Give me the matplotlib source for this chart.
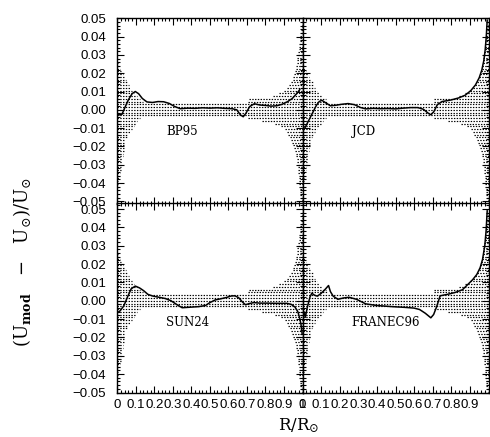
import numpy as np
import matplotlib
matplotlib.use('Agg')
import matplotlib.pyplot as plt
import matplotlib.ticker as ticker

# model curves: (r/R_sun, relative difference in U)
r_bp95 = [0, 0.01, 0.025, 0.04, 0.06, 0.08, 0.097, 0.115, 0.135, 0.16, 0.19, 0.22, 0.25, 0.28, 0.31,
          0.34, 0.38, 0.42, 0.46, 0.50, 0.54, 0.58, 0.62, 0.645, 0.665, 0.68, 0.695, 0.715, 0.74, 0.77,
          0.80, 0.83, 0.86, 0.89, 0.92, 0.945, 0.97, 0.985]
u_bp95 = [-0.002, -0.0028, -0.0025, 0.001, 0.0055, 0.0088, 0.010, 0.0088, 0.0062, 0.0043, 0.004, 0.0045,
          0.0044, 0.0035, 0.0018, 0.0006, 0.0009, 0.0008, 0.0011, 0.0009, 0.0011, 0.0008, 0.0006, 0.0,
          -0.0028, -0.0038, -0.0018, 0.0018, 0.0033, 0.0026, 0.0024, 0.002, 0.0022, 0.003, 0.0045, 0.0062,
          0.009, 0.011]

r_jcd = [0, 0.015, 0.035, 0.055, 0.075, 0.09, 0.104, 0.125, 0.15, 0.18, 0.21, 0.245, 0.28, 0.31, 0.34,
         0.38, 0.42, 0.46, 0.50, 0.54, 0.58, 0.62, 0.65, 0.675, 0.69, 0.705, 0.725, 0.75, 0.80, 0.84,
         0.875, 0.905, 0.93, 0.95, 0.964, 0.975, 0.982, 0.988, 0.993]
u_jcd = [-0.012, -0.0095, -0.0055, -0.0015, 0.0025, 0.0045, 0.0052, 0.0038, 0.0022, 0.0025, 0.003, 0.0034,
         0.0028, 0.0013, 0.0005, 0.0008, 0.0006, 0.0007, 0.0005, 0.0009, 0.0012, 0.0012, 0.0003, -0.0018,
         -0.0027, -0.0012, 0.0028, 0.0045, 0.0054, 0.0065, 0.008, 0.0105, 0.0136, 0.0175, 0.0217, 0.027,
         0.0326, 0.04, 0.049]

r_sun24 = [0, 0.015, 0.035, 0.055, 0.075, 0.097, 0.12, 0.142, 0.165, 0.19, 0.22, 0.26, 0.29, 0.32, 0.35,
           0.38, 0.41, 0.44, 0.476, 0.50, 0.53, 0.56, 0.59, 0.615, 0.635, 0.655, 0.675, 0.692, 0.71, 0.737,
           0.77, 0.81, 0.86, 0.916, 0.94, 0.96, 0.975, 0.985, 0.992, 0.998]
u_sun24 = [-0.0065, -0.0055, -0.0028, 0.002, 0.0065, 0.008, 0.007, 0.0055, 0.0035, 0.0026, 0.002, 0.0012,
           0.0, -0.002, -0.0038, -0.0036, -0.0034, -0.0032, -0.0026, -0.001, 0.0005, 0.0011, 0.0018, 0.0026,
           0.0027, 0.0017, -0.0006, -0.0022, -0.0016, -0.001, -0.0013, -0.0013, -0.0014, -0.0014, -0.002,
           -0.0035, -0.006, -0.0095, -0.013, -0.018]

r_franec = [0, 0.008, 0.015, 0.025, 0.04, 0.05, 0.065, 0.08, 0.1, 0.12, 0.14, 0.15, 0.165, 0.19, 0.22,
            0.25, 0.29, 0.34, 0.40, 0.48, 0.55, 0.60, 0.63, 0.66, 0.69, 0.705, 0.72, 0.74, 0.78, 0.82,
            0.86, 0.89, 0.915, 0.937, 0.955, 0.968, 0.98, 0.987, 0.993]
u_franec = [-0.009, -0.006, -0.009, -0.004, 0.002, 0.0041, 0.003, 0.0025, 0.004, 0.006, 0.0083, 0.005,
            0.0025, 0.0008, 0.0015, 0.0019, 0.0008, -0.0017, -0.0026, -0.0032, -0.0036, -0.004, -0.0048,
            -0.0068, -0.0093, -0.0075, -0.0036, 0.0027, 0.0035, 0.0045, 0.006, 0.009, 0.0115, 0.0143,
            0.018, 0.0225, 0.03, 0.038, 0.049]

# helioseismic uncertainty envelope (upper and lower)
env_r_up = [0.0, 0.02, 0.045, 0.07, 0.09, 0.125, 0.15, 0.70, 0.71, 0.84, 0.91, 0.945, 0.965, 0.985, 1.0]
env_up = [0.027, 0.021, 0.017, 0.012, 0.009, 0.006, 0.0032, 0.0032, 0.0062, 0.0075, 0.011, 0.016, 0.0235, 0.038, 0.05]
env_r_lo = [0.0, 0.02, 0.045, 0.065, 0.09, 0.11, 0.14, 0.70, 0.71, 0.84, 0.90, 0.93, 0.95, 0.97, 0.99, 1.0]
env_lo = [0.043, 0.032, 0.016, 0.0125, 0.009, 0.006, 0.0032, 0.0032, 0.0048, 0.007, 0.0098, 0.0145, 0.02, 0.027, 0.049, 0.05]

names = ['BP95', 'JCD', 'SUN24', 'FRANEC96']
curves = [(r_bp95, u_bp95), (r_jcd, u_jcd), (r_sun24, u_sun24), (r_franec, u_franec)]

plt.rcParams['font.family'] = ['Liberation Sans', 'DejaVu Sans']
plt.rcParams['mathtext.fontset'] = 'dejavuserif'
plt.rcParams['lines.scale_dashes'] = False

W, H = 490, 437
fig = plt.figure(figsize=(W / 100, H / 100), dpi=100)

x0, xm, x1 = 117.3, 302.5, 488.5
yt, ymid, yb = 18.3, 203.5, 392.5
boxes = [
    (x0, ymid, xm - x0, ymid - yt),
    (xm, ymid, x1 - xm, ymid - yt),
    (x0, yb, xm - x0, yb - ymid),
    (xm, yb, x1 - xm, yb - ymid),
]
ylims = [(-0.0512, 0.05), (-0.0512, 0.05), (-0.05, 0.053), (-0.05, 0.053)]

r_fine = np.linspace(0, 1, 800)
up_fine = np.interp(r_fine, env_r_up, env_up)
lo_fine = np.interp(r_fine, env_r_lo, env_lo)
step = 0.0015
levels = np.arange(-33, 34) * step


def minus_fmt(v, pos):
    s = f'{v:.2f}'
    if s == '-0.00':
        s = '0.00'
    return s.replace('-', '\u2212')


for i, (name, (r, u)) in enumerate(zip(names, curves)):
    bx, by, bw, bh = boxes[i]
    ax = fig.add_axes([bx / W, 1 - by / H, bw / W, bh / H])
    ax.set_xlim(0, 1)
    ax.set_ylim(*ylims[i])

    for lev in levels:
        if lev >= 0:
            mask = up_fine >= lev
        else:
            mask = lo_fine >= -lev
        ax.plot(r_fine, np.where(mask, lev, np.nan), color='black', lw=0.85,
                linestyle=(0, (1.0, 1.0)))

    ax.plot(r, u, color='black', lw=1.1)
    ax.text(0.265, -0.012, name, fontsize=8.5, family='DejaVu Serif', va='center')

    ax.xaxis.set_major_locator(ticker.MultipleLocator(0.1))
    ax.xaxis.set_minor_locator(ticker.MultipleLocator(0.02))
    ax.yaxis.set_major_locator(ticker.FixedLocator(np.arange(-5, 6) * 0.01))
    ax.yaxis.set_minor_locator(ticker.MultipleLocator(0.002))
    ax.tick_params(which='both', direction='in', top=True, right=True, width=0.8)
    ax.tick_params(which='major', length=5)
    ax.tick_params(which='minor', length=2.5)
    ax.tick_params(axis='y', pad=8, labelsize=9.5)
    ax.tick_params(axis='x', pad=5, labelsize=9.5)
    for sp in ax.spines.values():
        sp.set_linewidth(1.0)

    ax.yaxis.set_major_formatter(ticker.FuncFormatter(minus_fmt))
    ax.xaxis.set_major_formatter(ticker.FuncFormatter(lambda v, p: f'{v:g}'))
    if i % 2 == 1:
        ax.tick_params(axis='y', labelleft=False)
    if i < 2:
        ax.tick_params(axis='x', labelbottom=False)
    if i == 3:
        ax.xaxis.set_major_locator(ticker.FixedLocator(np.arange(0, 10) * 0.1))

fig.text(22 / W, 1 - 262 / H, r'$(\mathrm{U}_{\mathbf{mod}}\;\;\;-\;\;\;\mathrm{U}_{\odot})/\mathrm{U}_{\odot}$',
         rotation=90, ha='center', va='center', fontsize=13)
fig.text(299 / W, 1 - 426 / H, r'$\mathrm{R}/\mathrm{R}_{\odot}$', ha='center', va='center', fontsize=12)

fig.savefig('out.png', dpi=100)
